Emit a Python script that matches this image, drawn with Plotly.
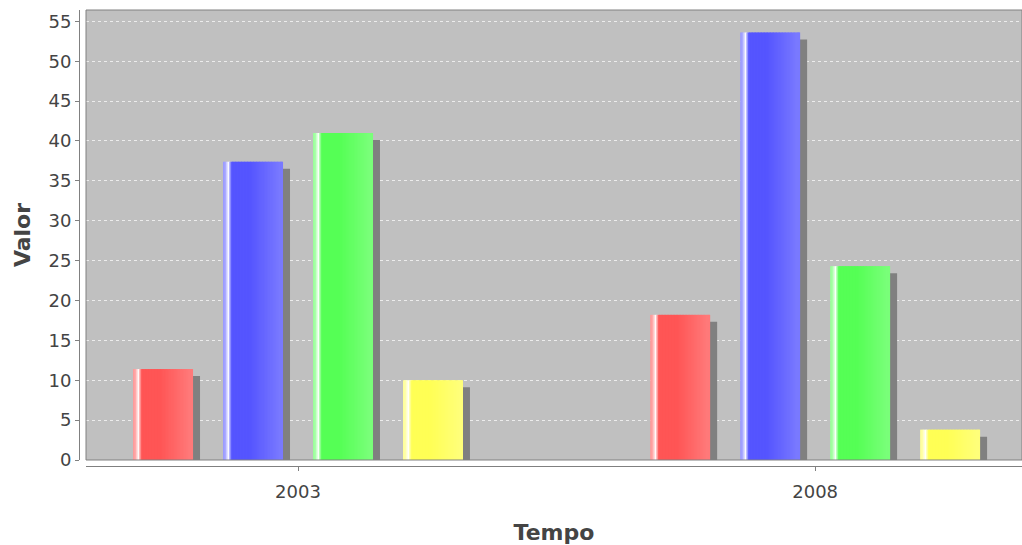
import plotly.graph_objects as go

# Data
tempo = ["2003", "2008"]
serie_vermelha = [11.4, 18.2]
serie_azul = [37.4, 53.6]
serie_verde = [41.0, 24.3]
serie_amarela = [10.0, 3.8]

y_ticks = list(range(0, 56, 5))

series = [
    ("Série 1", serie_vermelha, (255, 85, 85)),
    ("Série 2", serie_azul, (85, 85, 255)),
    ("Série 3", serie_verde, (85, 255, 85)),
    ("Série 4", serie_amarela, (255, 255, 85)),
]

# Bar geometry (category-axis units)
BAR_W = 0.116
OFFSETS = [-0.319, -0.145, 0.029, 0.203]
SHADOW_DX = 0.0135
SHADOW_DY = 0.877
N_SLICES = 40


def mix(a, b, t):
    return tuple(a[i] + (b[i] - a[i]) * t for i in range(3))


def gradient_colour(rgb, t):
    white = (255, 255, 255)
    bright = tuple(min(255.0, v / 0.7) for v in rgb)
    stops = [
        (0.00, mix(rgb, white, 0.35)),
        (0.05, mix(rgb, white, 0.55)),
        (0.09, white),
        (0.14, rgb),
        (0.45, rgb),
        (0.95, bright),
        (1.00, bright),
    ]
    for (t0, c0), (t1, c1) in zip(stops, stops[1:]):
        if t <= t1:
            f = 0 if t1 == t0 else (t - t0) / (t1 - t0)
            c = mix(c0, c1, f)
            return "rgb(%d,%d,%d)" % tuple(round(v) for v in c)
    return "rgb(%d,%d,%d)" % tuple(round(v) for v in bright)


fig = go.Figure()

# drop shadows
for (name, vals, rgb), off in zip(series, OFFSETS):
    fig.add_trace(go.Bar(
        x=tempo, y=vals, base=[-SHADOW_DY] * len(vals),
        width=BAR_W, offset=off + SHADOW_DX,
        marker=dict(color="#808080", line=dict(width=0)),
        showlegend=False, hoverinfo="skip",
    ))

# gradient-painted bars, built from thin vertical slices
slice_w = BAR_W / N_SLICES
for (name, vals, rgb), off in zip(series, OFFSETS):
    for k in range(N_SLICES):
        t = (k + 0.5) / N_SLICES
        w = slice_w * (1.6 if k < N_SLICES - 1 else 1.0)
        fig.add_trace(go.Bar(
            x=tempo, y=vals, width=w, offset=off + k * slice_w,
            marker=dict(color=gradient_colour(rgb, t), line=dict(width=0)),
            name=name, showlegend=False, hoverinfo="skip",
        ))

W, H = 1022, 545
L, R, T, B = 79, 0, 10, 79
plot_w = W - L - R
plot_h = H - T - B

font_family = "DejaVu Sans"
text_col = "#444444"
axis_col = "#808080"

fig.update_layout(
    width=W, height=H,
    margin=dict(l=L, r=R, t=T, b=B, pad=0),
    paper_bgcolor="white",
    plot_bgcolor="#C0C0C0",
    barmode="overlay",
    showlegend=False,
    font=dict(family=font_family, color=text_col, size=18),
    xaxis=dict(
        type="category",
        domain=[(86 - L) / plot_w, 1],
        range=[-0.410, 1.400],
        anchor="free", position=0,
        showline=True, linecolor=axis_col, linewidth=1,
        ticks="outside", ticklen=4, tickcolor=axis_col,
        ticklabelstandoff=5,
        showgrid=False, zeroline=False,
        tickfont=dict(size=18, color=text_col),
        title=dict(text="<b>Tempo</b>", font=dict(size=22, color=text_col), standoff=24),
    ),
    yaxis=dict(
        domain=[6 / plot_h, 1],
        range=[0, 56.42],
        anchor="free", position=0,
        tickvals=y_ticks,
        showline=True, linecolor=axis_col, linewidth=1,
        ticks="outside", ticklen=4, tickcolor=axis_col,
        showgrid=True, gridcolor="rgba(255,255,255,0.7)", griddash="3px,3px", gridwidth=1,
        zeroline=False,
        tickfont=dict(size=18, color=text_col),
        title=dict(text="<b>Valor</b>", font=dict(size=22, color=text_col), standoff=10),
    ),
    shapes=[dict(
        type="rect", xref="x domain", yref="y domain",
        x0=0, x1=1, y0=0, y1=1,
        line=dict(color=axis_col, width=1), layer="above",
    )],
)

fig.write_html("out.html")
